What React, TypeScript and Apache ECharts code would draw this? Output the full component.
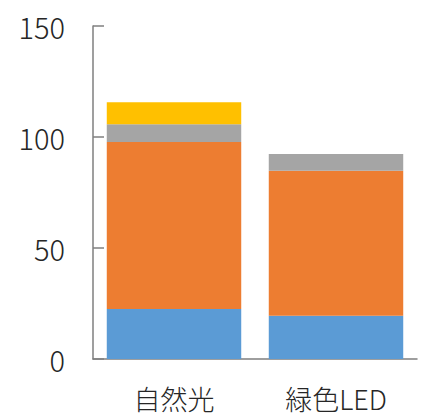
import React, { useEffect, useRef } from "react";
import * as echarts from "echarts";

const categories = ["自然光", "緑色LED"];
const blueValues = [22.5, 19.5];
const orangeValues = [75.3, 65.3];
const grayValues = [7.9, 7.5];
const yellowValues = [9.9, 0];

export default function App() {
  const ref = useRef<HTMLDivElement>(null);
  useEffect(() => {
    if (!ref.current) return;
    const chart = echarts.init(ref.current, undefined, { renderer: "svg" });
    const font = "'Noto Sans CJK JP', 'Noto Sans', sans-serif";
    const mk = (name: string, data: number[], color: string) => ({
      name,
      type: "bar",
      stack: "total",
      data,
      barWidth: "83%",
      itemStyle: { color },
    });
    chart.setOption({
      animation: false,
      grid: { left: 93, right: 8, top: 26, bottom: 58 },
      xAxis: {
        type: "category",
        data: categories,
        axisLine: { lineStyle: { color: "#7f7f7f", width: 1.5 } },
        axisTick: { show: false },
        axisLabel: { fontSize: 27, lineHeight: 28, color: "#262626", fontFamily: font, fontWeight: 300, margin: 25 },
      },
      yAxis: {
        type: "value",
        min: 0,
        max: 150,
        interval: 50,
        splitLine: { show: false },
        axisLine: { show: true, lineStyle: { color: "#7f7f7f", width: 1.5 } },
        axisTick: { show: true, inside: true, length: 11, lineStyle: { color: "#7f7f7f", width: 1.5 } },
        axisLabel: { fontSize: 29, color: "#262626", fontFamily: font, fontWeight: 300, margin: 28 },
      },
      series: [
        mk("blue", blueValues, "#5B9BD5"),
        mk("orange", orangeValues, "#ED7D31"),
        mk("gray", grayValues, "#A5A5A5"),
        mk("yellow", yellowValues, "#FFC000"),
      ],
    });
    return () => chart.dispose();
  }, []);
  return (
    <div
      ref={ref}
      style={{ position: "fixed", left: 0, top: 0, width: 425, height: 417, background: "#fff" }}
    />
  );
}
